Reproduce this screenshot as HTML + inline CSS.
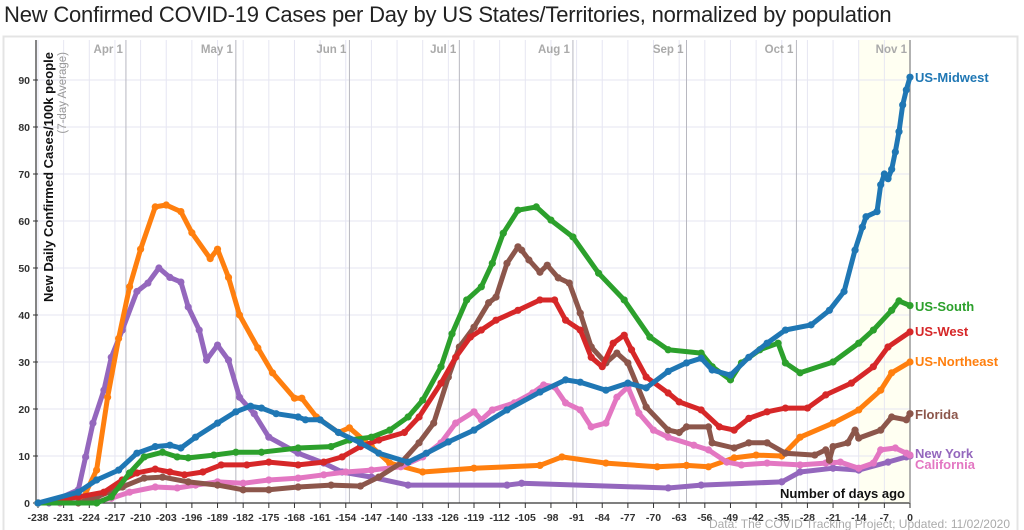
<!DOCTYPE html>
<html><head><meta charset="utf-8">
<style>
html,body{margin:0;background:#fff;width:1024px;height:530px;overflow:hidden;font-family:"Liberation Sans",sans-serif;}
#title{position:absolute;left:4px;top:2px;font-size:22px;color:#222;white-space:nowrap;letter-spacing:-0.2px}
svg{position:absolute;left:0;top:0;overflow:hidden}
</style></head><body>
<div id="title">New Confirmed COVID-19 Cases per Day by US States/Territories, normalized by population</div>
<svg id="chart" width="1024" height="530"></svg>
<script>
const yTicks=[0,10,20,30,40,50,60,70,80,90];
const xTicks=[-238,-231,-224,-217,-210,-203,-196,-189,-182,-175,-168,-161,-154,-147,-140,-133,-126,-119,-112,-105,-98,-91,-84,-77,-70,-63,-56,-49,-42,-35,-28,-21,-14,-7,0];
const monthNames=["Apr 1","May 1","Jun 1","Jul 1","Aug 1","Sep 1","Oct 1","Nov 1"];
const monthDays=[-214,-184,-153,-123,-92,-61,-31,0];

const neDays=[-238,-226,-222,-219,-216,-213,-210,-206,-203,-199,-196,-191,-189,-186,-183,-178,-174,-168,-166,-162,-156,-153,-147,-142,-133,-119,-101,-95,-83,-69,-61,-55,-48,-42,-35,-30,-21,-14,-8,-5,0];
const neVals=[0,0.5,7,22.5,35,46,54,63,63.4,62,57.5,52,54,48,40,33,27.7,22.3,22.3,18.3,15,16,12,8.5,6.6,7.4,8,9.8,8.5,7.7,8,7.7,9.6,10.2,10,14,17,19.8,24,27.7,30];
const nyDays=[-238,-235,-227,-225,-223,-220,-218,-215,-211,-208,-205,-202,-199,-197,-194,-192,-189,-186,-183,-179,-175,-167,-160,-155,-147,-137,-110,-106,-66,-57,-35,-30,-21,-14,-6,-1,0];
const nyVals=[0,0,2.8,9.8,17,24,31,36.8,45,46.8,50,48,47,41.7,36.8,30.4,33.6,30.4,22.5,19,14,10.6,8.5,6.6,5.5,3.8,3.8,4.2,3.2,3.8,4.5,6.6,7.4,7,8.7,9.8,10];
const caDays=[-238,-232,-222,-218,-213,-206,-200,-195,-189,-182,-175,-167,-160,-154,-147,-139,-133,-128,-124,-119,-117,-114,-108,-103,-100,-97,-94,-90,-87,-83,-80,-77,-74,-70,-66,-59,-55,-50,-46,-39,-30,-23,-19,-14,-10,-8,-4,-1,0];
const caVals=[0,0,0.3,1,2.3,3.4,3.2,3.8,4.5,4.2,4.9,5.3,6,6.6,7,7.7,9.8,12.8,17,19.4,17.7,19.8,21.3,23.4,25.1,24.7,21.3,19.8,16.2,17,22.5,24.7,19.1,15.5,14,12.3,11.3,8.7,8.1,8.5,8.1,8.5,8.7,7.4,8.5,11.3,11.7,10.6,10.2];
const flDays=[-238,-227,-222,-215,-209,-204,-197,-189,-182,-175,-167,-158,-150,-145,-139,-134,-130,-126,-123,-119,-115,-113,-110,-107,-106,-104,-101,-99,-96,-93,-90,-87,-83,-80,-77,-72,-66,-63,-61,-55,-54,-48,-44,-39,-34,-26,-23,-22,-21,-17,-15,-14,-8,-5,-1,0];
const flVals=[0,0,1.3,3.4,5.3,5.5,4.5,3.8,2.8,2.8,3.4,3.8,3.6,5.5,8.5,12.8,17,26.8,33.2,37.4,42.6,43.8,51,54.5,53.8,51.7,49.1,50.6,47.9,46.8,40.4,33.2,29.8,31.9,29.8,20.4,15.5,15,16.2,16.2,12.8,11.7,12.8,12.8,10.6,10.2,11.3,9.1,12,12.8,15.5,13.8,15.5,18.3,17.7,19];
const wDays=[-238,-227,-220,-215,-211,-206,-202,-198,-193,-188,-181,-175,-167,-160,-155,-150,-145,-138,-134,-128,-124,-120,-117,-113,-107,-101,-97,-94,-90,-87,-84,-81,-78,-76,-72,-66,-63,-57,-52,-48,-44,-39,-34,-28,-23,-16,-10,-6,0];
const wVals=[0,1.3,2.3,4.9,6.4,7.2,6.6,6,6.6,8.1,8.1,8.7,8.1,8.7,9.8,12,13.4,15,18.3,25.5,31,35.3,36.8,38.9,41,43.2,43.2,38.9,36.8,31,29,34,35.7,32.6,26.8,23.4,21.5,19.8,16.2,15.5,18,19.4,20.2,20.2,23,25.5,29,33.2,36.4];
const sDays=[-238,-222,-218,-213,-209,-204,-200,-197,-190,-184,-177,-167,-158,-153,-147,-142,-137,-133,-128,-125,-121,-117,-114,-111,-107,-102,-98,-92,-85,-78,-71,-66,-57,-54,-49,-46,-41,-36,-34,-30,-21,-14,-10,-5,-3,0];
const sVals=[0,0,1.3,6.4,9.8,10.8,9.8,9.6,10.2,10.8,10.8,11.7,12,13.4,14,15.5,18.3,21.9,29,36,43.2,46,51,57.4,62.3,63,60.2,56.6,48.9,43.2,35.3,32.6,31.9,29,26.2,29.8,32.6,34,29.8,27.7,30,34,36.8,41,43,42];
const mwDays=[-238,-227,-222,-216,-211,-206,-202,-199,-195,-189,-184,-180,-177,-173,-167,-165,-161,-156,-150,-145,-137,-132,-126,-119,-110,-101,-94,-90,-83,-77,-72,-66,-61,-57,-54,-49,-44,-39,-34,-27,-22,-18,-15,-13,-12,-9,-8,-7,-6,-5,-4,-3,-2,-1,0];
const mwVals=[0,2.3,4.9,7,10.6,12,12.3,11.7,14,17,19.4,20.6,20.2,19,18.3,17.7,17.7,15,12.8,10.6,8.7,10.6,13,15.5,19.8,23.6,26.2,25.7,24,25.5,24.5,28,29.8,30.8,28.3,27.2,31,34,36.8,37.9,41,45,53.8,58.7,60.9,62,67.7,70,69,71,74.7,79,84.7,87.9,90.6];

const series=[
 {name:"New York",key:"new-york",days:nyDays,vals:nyVals,color:"#9467bd",ly:453},
 {name:"US-Northeast",key:"us-northeast",days:neDays,vals:neVals,color:"#ff7f0e",ly:361},
 {name:"California",key:"california",days:caDays,vals:caVals,color:"#e377c2",ly:464},
 {name:"Florida",key:"florida",days:flDays,vals:flVals,color:"#8c564b",ly:414},
 {name:"US-West",key:"us-west",days:wDays,vals:wVals,color:"#d62728",ly:331},
 {name:"US-South",key:"us-south",days:sDays,vals:sVals,color:"#2ca02c",ly:306},
 {name:"US-Midwest",key:"us-midwest",days:mwDays,vals:mwVals,color:"#1f77b4",ly:77}
];
const X0=38,X1=910,Y0=503,Y90=80;
const xs=d=>X0+(d+238)*(X1-X0)/238;
const ys=v=>Y0-v*(Y0-Y90)/90;
const svg=document.getElementById('chart');
const NS="http://www.w3.org/2000/svg";
function mk(tag,attrs,parent){const e=document.createElementNS(NS,tag);for(const k in attrs)e.setAttribute(k,attrs[k]);(parent||svg).appendChild(e);return e;}

let frame=mk('path',{d:'M3.5,530 V36.5 H1017.5 V530',fill:'none',stroke:'#e4e4e4','stroke-width':2});


let shade=mk('rect',{x:xs(-14),y:40,width:xs(0)-xs(-14),height:Y0-40,fill:'#fffff2'});



xTicks.forEach(t=>{
 let l=mk('line',{x1:xs(t),x2:xs(t),y1:40,y2:Y0,stroke:'#e6e6f2','stroke-width':1});
 
 
 let tk=mk('line',{x1:xs(t),x2:xs(t),y1:Y0,y2:Y0+5,stroke:'#333','stroke-width':1});
 
 
 let tx=mk('text',{x:xs(t),y:521,'text-anchor':'middle','font-size':10.5,'font-weight':'bold',fill:'#333'});
 tx.textContent=t;
 
 
});
yTicks.forEach(t=>{
 let l=mk('line',{x1:X0,x2:X1,y1:ys(t),y2:ys(t),stroke:'#e6e6f2','stroke-width':1});
 
 
 let tk=mk('line',{x1:X0-5,x2:X0,y1:ys(t),y2:ys(t),stroke:'#333'});
 
 
 let tx=mk('text',{x:X0-8,y:ys(t)+4,'text-anchor':'end','font-size':10.5,'font-weight':'bold',fill:'#333'});
 tx.textContent=t;
 
 
});
monthDays.forEach((d,i)=>{
 let l=mk('line',{x1:xs(d),x2:xs(d),y1:40,y2:Y0,stroke:'#b8b8c0','stroke-width':1});
 
 
 let tx=mk('text',{x:xs(d)-3,y:53,'text-anchor':'end','font-size':11.5,'font-weight':'bold',fill:'#aaa'});
 tx.textContent=monthNames[i];
 
 
});
let yax=mk('line',{x1:X0-2,x2:X0-2,y1:40,y2:Y0,stroke:'#333','stroke-width':1.2});


let xax=mk('line',{x1:X0,x2:X1,y1:Y0,y2:Y0,stroke:'#333','stroke-width':1.2});


let rl=mk('line',{x1:X1,x2:X1,y1:40,y2:Y0,stroke:'#999','stroke-width':1.5});



let yt=mk('text',{transform:'translate(53,52) rotate(-90)','text-anchor':'end','font-size':13,'font-weight':'bold',fill:'#111'});
yt.textContent='New Daily Confirmed Cases/100k people';


let ys2=mk('text',{transform:'translate(66,52) rotate(-90)','text-anchor':'end','font-size':11.5,fill:'#999'});
ys2.textContent='(7-day Average)';


let xt=mk('text',{x:905,y:498,'text-anchor':'end','font-size':13,'font-weight':'bold',fill:'#111'});
xt.textContent='Number of days ago';


let src=mk('text',{x:1010,y:528,'text-anchor':'end','font-size':12,fill:'#aaa'});
src.textContent='Data: The COVID Tracking Project; Updated: 11/02/2020';



series.forEach(s=>{
 const g=mk('g',{});
 
 
 const pts=s.days.map((d,i)=>xs(d).toFixed(1)+','+ys(s.vals[i]).toFixed(1)).join(' ');
 const pl=mk('polyline',{points:pts,fill:'none',stroke:s.color,'stroke-width':5,'stroke-linejoin':'round','stroke-linecap':'round'},g);
 
 
 s.days.forEach((d,i)=>{
  const c=mk('circle',{cx:xs(d),cy:ys(s.vals[i]),r:3.6,fill:s.color},g);
  
  
 });
 const lb=mk('text',{x:915,y:s.ly+5,'font-size':13,'font-weight':'bold',fill:s.color});
 lb.textContent=s.name;
 
 
});
</script>
</body></html>
